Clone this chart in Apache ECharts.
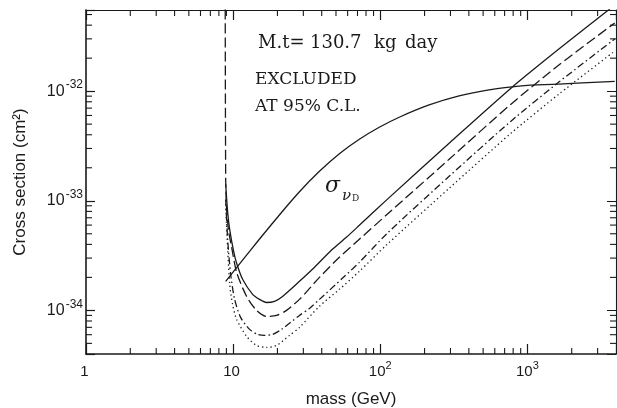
<!DOCTYPE html>
<html><head><meta charset="utf-8">
<script src="https://cdn.jsdelivr.net/npm/echarts@6/dist/echarts.min.js"></script>
<style>html,body{margin:0;padding:0;background:#fff}#c{width:617px;height:408px}</style>
</head><body><div id="c"></div>
<script>
// axis extents (mass in GeV, cross section in cm^2)
const massRange = [1, 4000];
const sigmaRange = [4e-35, 5.5e-32];
// minor tick positions
const massMinorTicks = [2,3,4,5,6,7,8,9,20,30,40,50,60,70,80,90,200,300,400,500,600,700,800,900,2000,3000];
const sigmaMinorTicks = [5e-35,6e-35,7e-35,8e-35,9e-35,2e-34,3e-34,4e-34,5e-34,6e-34,7e-34,8e-34,9e-34,
  2e-33,3e-33,4e-33,5e-33,6e-33,7e-33,8e-33,9e-33,2e-32,3e-32,4e-32,5e-32];

// exclusion limits [mass GeV, cross section cm^2]
const limitSolid = [[8.90,1.415e-33],[9.18,7.85e-34],[9.47,5.49e-34],[10.08,3.46e-34],[10.56,2.69e-34],[11.60,1.92e-34],
  [13.56,1.40e-34],[15.12,1.26e-34],[16.87,1.18e-34],[19.12,1.21e-34],[21.66,1.34e-34],[28.24,1.84e-34],[34.59,2.37e-34],
  [47.27,3.61e-34],[58.81,4.64e-34],[72.06,5.97e-34],[111.5,1.03e-33],[293.7,3.35e-33],[773,1.065e-32],[1636,2.42e-32],[3920,6.10e-32]];
const limitDashed = [[8.83,1e-31],[8.90,1.57e-33],[9.03,8.36e-34],[9.32,5.26e-34],[9.77,3.76e-34],[10.56,2.22e-34],[12.35,1.34e-34],
  [14.43,1.00e-34],[16.87,8.81e-35],[19.72,9.00e-35],[23.05,1.00e-34],[28.24,1.26e-34],[38.59,2.00e-34],[52.72,3.05e-34],
  [72.06,4.45e-34],[111.5,7.53e-34],[293.7,2.39e-33],[773,7.61e-33],[1636,1.73e-32],[3920,4.18e-32]];
const limitDashDot = [[8.90,1.03e-33],[9.18,4.45e-34],[9.62,2.13e-34],[10.24,1.26e-34],[11.24,8.63e-35],[12.94,6.71e-35],
  [14.66,6.04e-35],[16.35,5.91e-35],[18.53,6.04e-35],[21.33,6.71e-35],[28.24,9.00e-35],[33.01,1.04e-34],[38.59,1.26e-34],
  [55.26,1.96e-34],[72.06,2.74e-34],[111.5,5.05e-34],[293.7,1.67e-33],[773,5.32e-33],[1636,1.21e-32],[3920,2.99e-32]];
const limitDotted = [[8.90,9.29e-34],[9.18,3.61e-34],[9.47,1.73e-34],[9.92,1.13e-34],[10.56,8.28e-35],[12.35,5.79e-35],
  [14.43,4.79e-35],[16.87,4.59e-35],[19.72,4.79e-35],[24.16,5.91e-35],[28.24,6.99e-35],[38.59,1.09e-34],[52.72,1.555e-34],
  [72.06,2.27e-34],[111.5,4.01e-34],[293.7,1.30e-33],[773,4.13e-33],[1636,9.39e-33],[3920,2.32e-32]];
// Dirac neutrino cross section
const sigmaNuD = [[8.90,1.84e-34],[12.94,3.46e-34],[20.03,7.07e-34],[28.24,1.208e-33],[38.59,1.856e-33],[52.72,2.687e-33],
  [72.06,3.636e-33],[98.4,4.68e-33],[134.5,5.78e-33],[214.9,7.48e-33],[343.4,9.04e-33],[548.3,1.026e-32],[876,1.113e-32],
  [1636,1.161e-32],[3920,1.23e-32]];

// the y axis is fed in units of 1e-36 cm^2 (avoids float rounding of tiny numbers inside the scale)
const UNIT_EXP = 36;
const toUnit = v => v * Math.pow(10, UNIT_EXP);
const conv = arr => arr.map(p => [p[0], toUnit(p[1])]);
const yMin = toUnit(sigmaRange[0]), yMax = toUnit(sigmaRange[1]);

const INK = '#1a1a1a';
const SANS = '"Liberation Sans", Arial, sans-serif';
const SERIF = '"DejaVu Serif", serif';

function decadeOf(v) {
  const l = Math.log10(v), e = Math.round(l);
  return Math.abs(l - e) > 1e-6 ? null : e;
}
function massLabel(v) {
  const e = decadeOf(v);
  if (e === null) return '';
  if (e === 0) return '{b|1}{s| }';
  if (e === 1) return '{b|10}{s| }';
  return '{b|10}{s|' + e + '}';
}
function sigmaLabel(v) {
  const e = decadeOf(v);
  if (e === null) return '';
  return '{b|10}{s|' + (e - UNIT_EXP) + '}';
}
const massRich = {
  b: {fontSize: 15, fontFamily: SANS, color: INK},
  s: {fontSize: 11, fontFamily: SANS, color: INK, padding: [0, 0, 12, 0]}
};
const sigmaRich = {
  b: {fontSize: 16, fontFamily: SANS, color: INK, padding: [0, 1, 0, 0]},
  s: {fontSize: 12, fontFamily: SANS, color: INK, padding: [0, 0, 12, 0]}
};

function baseAxis(extra) {
  return Object.assign({
    type: 'log', logBase: 10,
    axisLine: {show: true, onZero: false, lineStyle: {color: INK, width: 1.6}},
    axisTick: {show: true, inside: true, length: 10, lineStyle: {color: INK, width: 1.2}},
    minorTick: {show: false},
    splitLine: {show: false},
  }, extra);
}

const chart = echarts.init(document.getElementById('c'), null, {renderer: 'canvas'});
const lineBase = {type: 'line', showSymbol: false, symbol: 'none', smooth: 0.25, clip: true, xAxisIndex: 0, yAxisIndex: 0, z: 3};

chart.setOption({
  animation: false,
  backgroundColor: '#fff',
  grid: {left: 86, right: 1, top: 10, bottom: 54, containLabel: false, outerBoundsMode: 'none'},
  xAxis: [
    baseAxis({min: massRange[0], max: massRange[1], position: 'bottom',
      name: 'mass (GeV)', nameLocation: 'middle', nameGap: 37,
      nameTextStyle: {fontSize: 17, fontFamily: SANS, color: INK},
      axisLabel: {show: true, margin: 6, formatter: massLabel, rich: massRich}}),
    baseAxis({min: massRange[0], max: massRange[1], position: 'top', axisLabel: {show: false},
      axisLine: {show: true, onZero: false, lineStyle: {color: INK, width: 1.2}}})
  ],
  yAxis: [
    baseAxis({min: yMin, max: yMax, position: 'left',
      name: 'Cross section (cm²)', nameLocation: 'middle', nameGap: 57,
      nameTextStyle: {fontSize: 17, fontFamily: SANS, color: INK},
      axisTick: {show: true, inside: true, length: 9, lineStyle: {color: INK, width: 1.2}},
      axisLabel: {show: true, margin: 3, formatter: sigmaLabel, rich: sigmaRich}}),
    baseAxis({min: yMin, max: yMax, position: 'right', axisLabel: {show: false},
      axisLine: {show: true, onZero: false, lineStyle: {color: INK, width: 1.1}},
      axisTick: {show: true, inside: true, length: 9, lineStyle: {color: INK, width: 1}}})
  ],
  series: [
    Object.assign({}, lineBase, {name: 'limit', data: conv(limitSolid), lineStyle: {color: INK, width: 1.3, type: 'solid'}}),
    Object.assign({}, lineBase, {name: 'limit dashed', data: conv(limitDashed), lineStyle: {color: INK, width: 1.3, type: [10, 4]}}),
    Object.assign({}, lineBase, {name: 'limit dash-dot', data: conv(limitDashDot), lineStyle: {color: INK, width: 1.3, type: [7, 3, 1.5, 3]}}),
    Object.assign({}, lineBase, {name: 'limit dotted', data: conv(limitDotted), lineStyle: {color: INK, width: 1.3, type: [1.3, 3]}}),
    Object.assign({}, lineBase, {name: 'sigma nuD', data: conv(sigmaNuD), smooth: 0.4, lineStyle: {color: INK, width: 1.3, type: 'solid'}}),
    {
      type: 'custom', name: 'mass minor ticks', xAxisIndex: 0, yAxisIndex: 0, silent: true, z: 4,
      data: massMinorTicks.map(v => [v, yMin]),
      encode: {x: 0, y: 1},
      renderItem: function (params, api) {
        const v = api.value(0);
        const b = api.coord([v, yMin]);
        const t = api.coord([v, yMax]);
        const st = {stroke: INK, lineWidth: 1.1};
        return {type: 'group', children: [
          {type: 'line', shape: {x1: b[0], y1: b[1], x2: b[0], y2: b[1] - 6}, style: st},
          {type: 'line', shape: {x1: t[0], y1: t[1], x2: t[0], y2: t[1] + 6}, style: st}
        ]};
      }
    },
    {
      type: 'custom', name: 'sigma minor ticks', xAxisIndex: 0, yAxisIndex: 0, silent: true, z: 4,
      data: sigmaMinorTicks.map(v => [massRange[0], toUnit(v)]),
      encode: {x: 0, y: 1},
      renderItem: function (params, api) {
        const v = api.value(1);
        const l = api.coord([massRange[0], v]);
        const r = api.coord([massRange[1], v]);
        const st = {stroke: INK, lineWidth: 1.1};
        return {type: 'group', children: [
          {type: 'line', shape: {x1: l[0], y1: l[1], x2: l[0] + 6, y2: l[1]}, style: st},
          {type: 'line', shape: {x1: r[0], y1: r[1], x2: r[0] - 6, y2: r[1]}, style: st}
        ]};
      }
    }
  ],
  graphic: [
    {type: 'text', left: 258, top: 34, style: {text: 'M.t=', font: '18px ' + SERIF, fill: INK}},
    {type: 'text', left: 310, top: 34, style: {text: '130.7', font: '18px ' + SERIF, fill: INK}},
    {type: 'text', left: 374, top: 34, style: {text: 'kg', font: '18px ' + SERIF, fill: INK}},
    {type: 'text', left: 405, top: 34, style: {text: 'day', font: '18px ' + SERIF, fill: INK}},
    {type: 'text', left: 255, top: 71, style: {text: 'EXCLUDED', font: '17px ' + SERIF, fill: INK}},
    {type: 'text', left: 255, top: 98, style: {text: 'AT 95% C.L.', font: '17px ' + SERIF, fill: INK}},
    {type: 'text', left: 325, top: 175, style: {text: 'σ', font: 'italic 22px ' + SERIF, fill: INK}},
    {type: 'text', left: 342, top: 189, style: {text: 'ν', font: 'italic 15px ' + SERIF, fill: INK}},
    {type: 'text', left: 352, top: 194, style: {text: 'D', font: '9px ' + SERIF, fill: INK}}
  ]
});
</script></body></html>
